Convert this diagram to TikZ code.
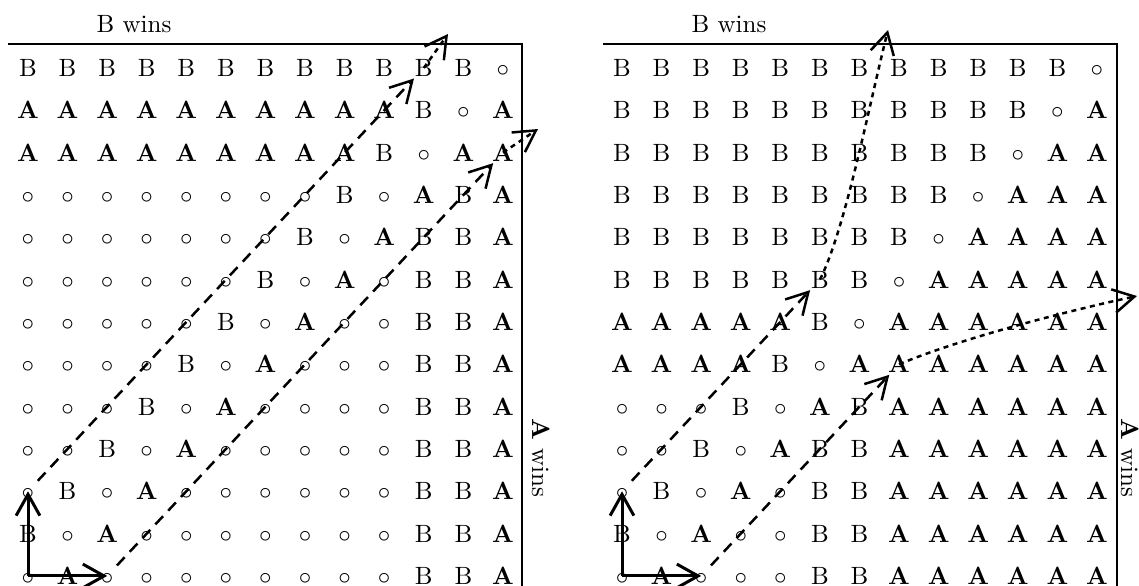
\documentclass[tikz,border=0pt]{standalone}
\usetikzlibrary{arrows.meta}
\newcommand\mycellB{B}
\newcommand\mycellA{\textbf{A}}
\newcommand\mycello{$\circ$}
\begin{document}
\begin{tikzpicture}[x=0.4pt,y=-0.4pt,
  cell/.style={inner xsep=0pt, inner ysep=0.6pt, minimum width=8pt, text height=6.8pt, text depth=0pt},
  framelne/.style={line width=0.45pt},
  barb/.style={-{Straight Barb[length=8.5pt,width=9.5pt]}},
  solidarrow/.style={barb, line width=1.2pt},
  dasharrow/.style={barb, line width=1pt, dash pattern=on 4.5pt off 3pt},
  dotarrow/.style={barb, line width=1pt, dash pattern=on 2pt off 1.8pt},
  wintext/.style={inner sep=0pt, anchor=base}]
\useasboundingbox (0,0) rectangle (1139,586);
% left panel grid
\foreach \rowlist [count=\ri] in {
 {B,B,B,B,B,B,B,B,B,B,B,B,o},
 {A,A,A,A,A,A,A,A,A,A,B,o,A},
 {A,A,A,A,A,A,A,A,A,B,o,A,A},
 {o,o,o,o,o,o,o,o,B,o,A,B,A},
 {o,o,o,o,o,o,o,B,o,A,B,B,A},
 {o,o,o,o,o,o,B,o,A,o,B,B,A},
 {o,o,o,o,o,B,o,A,o,o,B,B,A},
 {o,o,o,o,B,o,A,o,o,o,B,B,A},
 {o,o,o,B,o,A,o,o,o,o,B,B,A},
 {o,o,B,o,A,o,o,o,o,o,B,B,A},
 {o,B,o,A,o,o,o,o,o,o,B,B,A},
 {B,o,A,o,o,o,o,o,o,o,B,B,A},
 {o,A,o,o,o,o,o,o,o,o,B,B,A}}{
  \foreach \sym [count=\ci] in \rowlist {
    \node[cell] (L-\ri-\ci) at ({28+39.58*(\ci-1)},{68+42.33*(\ri-1)}) {\csname mycell\sym\endcsname};
  }
}
% right panel grid
\foreach \rowlist [count=\ri] in {
 {B,B,B,B,B,B,B,B,B,B,B,B,o},
 {B,B,B,B,B,B,B,B,B,B,B,o,A},
 {B,B,B,B,B,B,B,B,B,B,o,A,A},
 {B,B,B,B,B,B,B,B,B,o,A,A,A},
 {B,B,B,B,B,B,B,B,o,A,A,A,A},
 {B,B,B,B,B,B,B,o,A,A,A,A,A},
 {A,A,A,A,A,B,o,A,A,A,A,A,A},
 {A,A,A,A,B,o,A,A,A,A,A,A,A},
 {o,o,o,B,o,A,B,A,A,A,A,A,A},
 {o,o,B,o,A,B,B,A,A,A,A,A,A},
 {o,B,o,A,o,B,B,A,A,A,A,A,A},
 {B,o,A,o,o,B,B,A,A,A,A,A,A},
 {o,A,o,o,o,B,B,A,A,A,A,A,A}}{
  \foreach \sym [count=\ci] in \rowlist {
    \node[cell] (R-\ri-\ci) at ({622+39.58*(\ci-1)},{68+42.33*(\ri-1)}) {\csname mycell\sym\endcsname};
  }
}
% frames
\draw[framelne] (8,44) -- (522,44) -- (522,586);
\draw[framelne] (603,44) -- (1117,44) -- (1117,586);
% labels
\node[wintext] (LBw) at (134,33) {B wins};
\node[wintext,rotate=-90] (LAw) at (532,458) {\textbf{A} wins};
\node[wintext] (RBw) at (729,33) {B wins};
\node[wintext,rotate=-90] (RAw) at (1121,458) {\textbf{A} wins};
% free ends
\coordinate (Ltip1) at (448,34);
\coordinate (Ltip2) at (538,129);
\coordinate (Rtip1) at (888,30);
\coordinate (Rtip2) at (1137,296);
% left arrows
\draw[solidarrow] (L-13-1.center) -- (L-11-1.center);
\draw[solidarrow] (L-13-1.center) -- (L-13-3.center);
\draw[dasharrow] (L-11-1) -- (L-1-11);
\draw[dasharrow] (L-13-3) -- (L-3-13);
\draw[dotarrow] (L-1-11.center) -- (Ltip1);
\draw[dotarrow] (L-3-13.center) -- (Ltip2);
% right arrows
\draw[solidarrow] (R-13-1.center) -- (R-11-1.center);
\draw[solidarrow] (R-13-1.center) -- (R-13-3.center);
\draw[dasharrow] (R-11-1) -- (R-6-6);
\draw[dasharrow] (R-13-3) -- (R-8-8);
\draw[dotarrow] (R-6-6.center) .. controls (845,230) and (868,110) .. (Rtip1);
\draw[dotarrow] (R-8-8.center) .. controls (959,339) and (1067,311) .. (Rtip2);
\end{tikzpicture}
\end{document}
